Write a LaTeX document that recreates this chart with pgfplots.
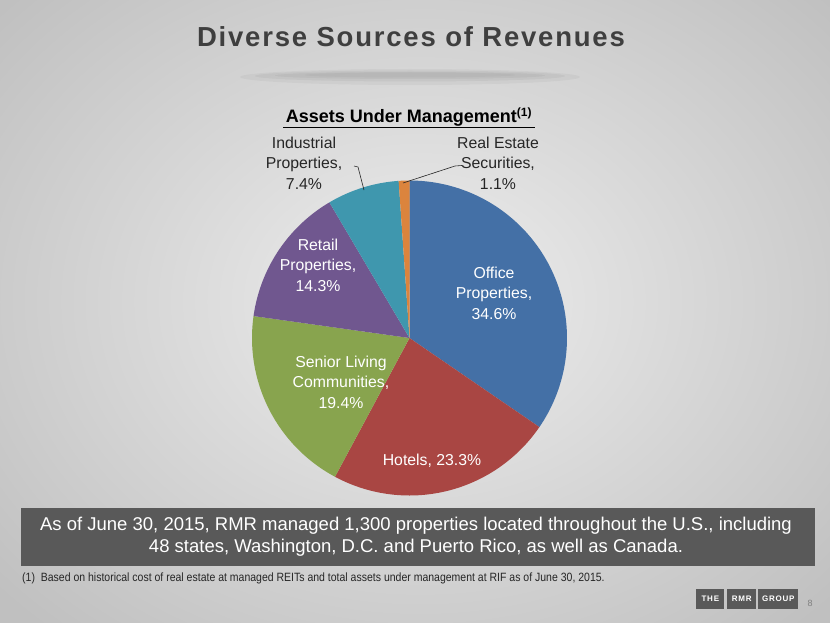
\documentclass[border=0pt]{standalone}
\usepackage{pgfplots}
\pgfplotsset{compat=1.18}
\usepackage{pgfplotstable}
\usepgfplotslibrary{polar}
\usepackage{fontspec}
\setmainfont{Liberation Sans}
\newfontfamily\titlefont[LetterSpace=6.5]{Liberation Sans}
\newfontfamily\logofont[LetterSpace=10]{Liberation Sans}
\newfontfamily\notefont[FakeStretch=0.875]{Liberation Sans}

\definecolor{pie0}{HTML}{4470A6}
\definecolor{pie1}{HTML}{A94643}
\definecolor{pie2}{HTML}{88A44E}
\definecolor{pie3}{HTML}{70578F}
\definecolor{pie4}{HTML}{3F97AE}
\definecolor{pie5}{HTML}{DB843D}
\definecolor{titlegray}{HTML}{3F3F3F}
\definecolor{boxgray}{HTML}{595959}
\definecolor{labeldark}{HTML}{262626}

\pgfplotstableread[col sep=comma]{
name,value
Office Properties,34.6
Hotels,23.3
Senior Living Communities,19.4
Retail Properties,14.3
Industrial Properties,7.4
Real Estate Securities,1.1
}\piedata

% angles of the wedges from the values
\gdef\pietotal{0}
\foreach \i in {0,...,5}{%
  \pgfplotstablegetelem{\i}{value}\of\piedata
  \pgfmathparse{\pietotal+\pgfplotsretval}\xdef\pietotal{\pgfmathresult}}
\gdef\piecum{0}
\foreach \i in {0,...,5}{%
  \pgfplotstablegetelem{\i}{value}\of\piedata
  \let\v\pgfplotsretval
  \pgfmathparse{90-360*(\piecum/\pietotal)}\expandafter\xdef\csname s\i\endcsname{\pgfmathresult}%
  \pgfmathparse{\piecum+\v}\xdef\piecum{\pgfmathresult}%
  \pgfmathparse{90-360*(\piecum/\pietotal)}\expandafter\xdef\csname e\i\endcsname{\pgfmathresult}}

\begin{document}
\begin{tikzpicture}[x=1pt,y=-1pt]
\useasboundingbox (0,0) rectangle (830,623);
% background
\begin{scope}
\clip (0,0) rectangle (830,623);
\shade[inner color={rgb,255:red,238;green,238;blue,238}, outer color={rgb,255:red,192;green,192;blue,192}]
  (-140,-140) rectangle (980,743);
\end{scope}
% title shadow
\fill[black,opacity=0.035] (410,77) ellipse (170 and 8);
\fill[black,opacity=0.04] (410,76) ellipse (155 and 5.5);
\fill[black,opacity=0.04] (410,75.5) ellipse (135 and 3.5);
\fill[black,opacity=0.03] (410,75) ellipse (105 and 2.5);
% title
\node[anchor=base, text=titlegray, font=\titlefont\bfseries\fontsize{27.5}{31}\selectfont] at (411,47) {Diverse Sources of Revenues};
% subtitle
\node[anchor=base, text=black, font=\bfseries\fontsize{18}{21}\selectfont, inner sep=0pt] (sub) at (409,123) {Assets Under Management\textsuperscript{\fontsize{12}{12}\selectfont(1)}};
\draw[black, line width=1.2pt] (283,127.5) -- (535,127.5);

\begin{polaraxis}[
  at={(409.5pt,-338pt)}, anchor=center,
  scale only axis, width=315pt, height=315pt,
  hide axis, ymin=0, ymax=1,
  clip=false]
\pgfplotsinvokeforeach{0,...,5}{%
  \edef\temp{\noexpand\addplot[draw=none, fill=pie#1, domain=\csname e#1\endcsname:\csname s#1\endcsname, samples=90] {1} -- (axis cs:0,0) -- cycle;}%
  \temp
}
\end{polaraxis}

% labels
\begin{scope}[every node/.style={align=center, font=\fontsize{15.8}{20.5}\selectfont, inner sep=0pt}]
\node[text=white] at (494,293) {Office\\Properties,\\34.6\%};
\node[text=white] at (432,461) {Hotels, 23.3\%};
\node[text=white] at (341,382) {Senior Living\\Communities,\\19.4\%};
\node[text=white] at (318,265) {Retail\\Properties,\\14.3\%};
\node[text=labeldark] at (304,163) {Industrial\\Properties,\\7.4\%};
\node[text=labeldark] at (498,163) {Real Estate\\Securities,\\1.1\%};
\end{scope}
\draw[labeldark, line width=0.6pt] (354,166) -- (358,167) -- (364,190);
\draw[labeldark, line width=0.6pt] (462,165.5) -- (455,166) -- (403,183);

% bottom box
\fill[boxgray] (21,508) rectangle (815,566);
\node[text=white, align=center, font=\fontsize{18.5}{22}\selectfont, inner sep=0pt] at (416,537) {As of June 30, 2015, RMR managed 1,300 properties located throughout the U.S., including\\48 states, Washington, D.C. and Puerto Rico, as well as Canada.};
% footnote
\node[anchor=base west, text=labeldark, font=\notefont\fontsize{12}{13}\selectfont, inner sep=0pt] at (22,581.5) {(1)\ \ Based on historical cost of real estate at managed REITs and total assets under management at RIF as of June 30, 2015.};
% logo
\fill[boxgray] (696,589) rectangle (724,609);
\fill[boxgray] (727,589) rectangle (756,609);
\fill[boxgray] (758,589) rectangle (798,609);
\node[text=white, font=\logofont\bfseries\fontsize{8}{9}\selectfont, inner sep=0pt] at (710.3,599) {THE};
\node[text=white, font=\logofont\bfseries\fontsize{8}{9}\selectfont, inner sep=0pt] at (741.8,599) {RMR};
\node[text=white, font=\logofont\bfseries\fontsize{8}{9}\selectfont, inner sep=0pt] at (778.3,599) {GROUP};
\node[text=gray, font=\fontsize{9}{10}\selectfont, inner sep=0pt] at (810,603) {8};
\end{tikzpicture}
\end{document}
